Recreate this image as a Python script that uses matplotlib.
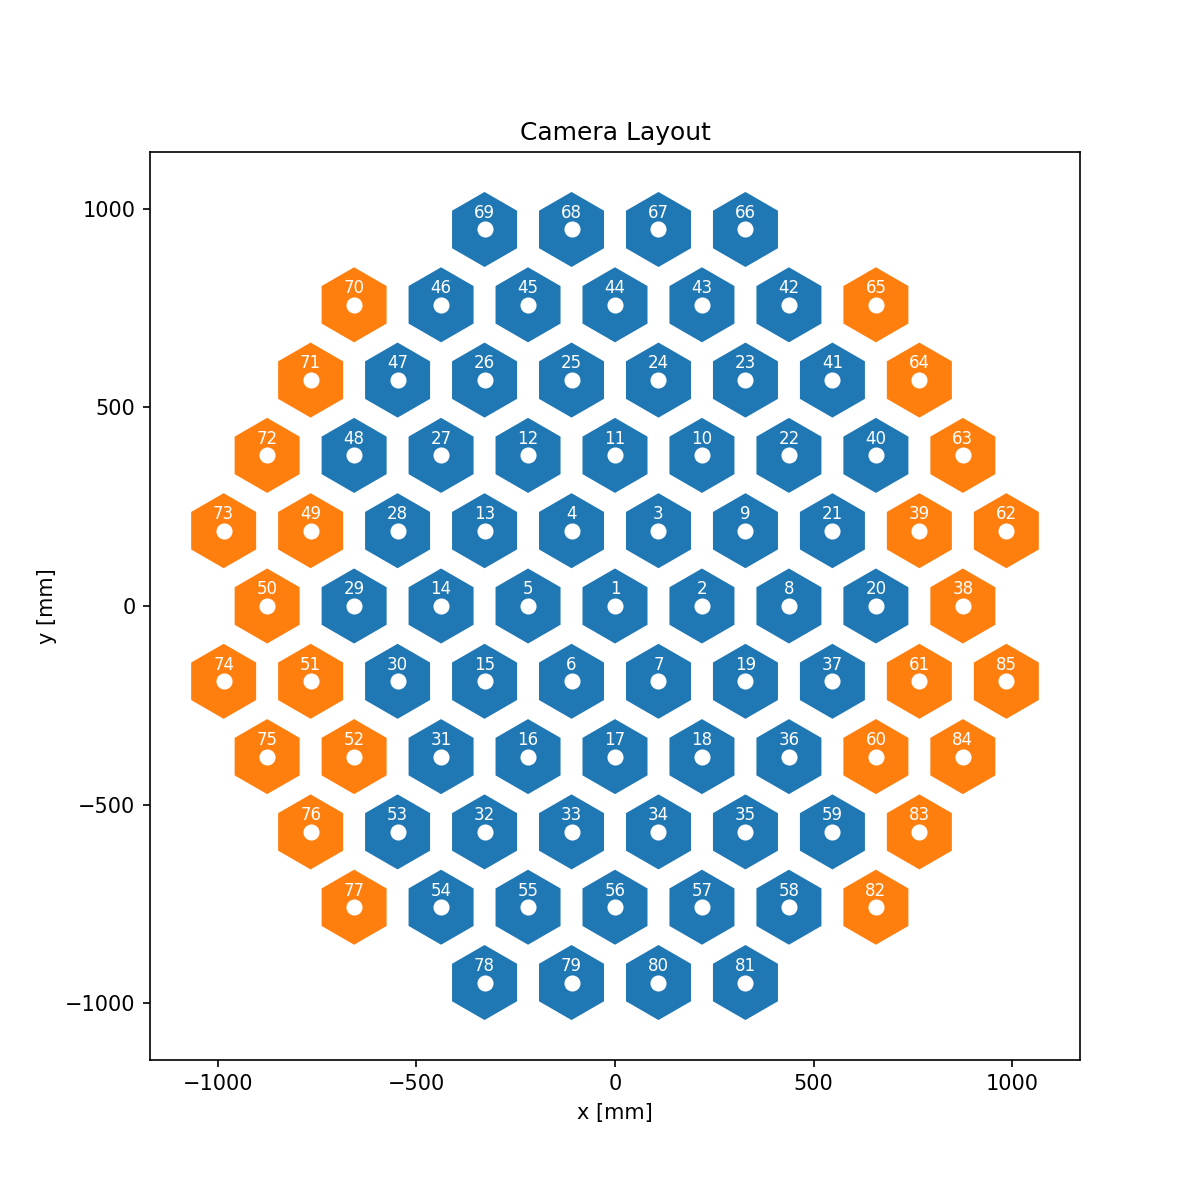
import numpy as np
import matplotlib
matplotlib.use("Agg")
import matplotlib.pyplot as plt
from matplotlib.patches import RegularPolygon
from matplotlib.collections import PatchCollection

# Pixel ids and positions [mm], in id order
pix_id = np.arange(1, 86)
pix_x = [
    0, 219, 109.5, -109.5, -219, -109.5, 109.5, 438, 328.5, 219,
    0, -219, -328.5, -438, -328.5, -219, 0, 219, 328.5, 657,
    547.5, 438, 328.5, 109.5, -109.5, -328.5, -438, -547.5, -657, -547.5,
    -438, -328.5, -109.5, 109.5, 328.5, 438, 547.5, 876, 766.5, 657,
    547.5, 438, 219, 0, -219, -438, -547.5, -657, -766.5, -876,
    -766.5, -657, -547.5, -438, -219, 0, 219, 438, 547.5, 657,
    766.5, 985.5, 876, 766.5, 657, 328.5, 109.5, -109.5, -328.5, -657,
    -766.5, -876, -985.5, -985.5, -876, -766.5, -657, -328.5, -109.5, 109.5,
    328.5, 657, 766.5, 876, 985.5,
]
pix_y = [
    0, 0, 189.6, 189.6, 0, -189.6, -189.6, 0, 189.6, 379.3,
    379.3, 379.3, 189.6, 0, -189.6, -379.3, -379.3, -379.3, -189.6, 0,
    189.6, 379.3, 568.9, 568.9, 568.9, 568.9, 379.3, 189.6, 0, -189.6,
    -379.3, -568.9, -568.9, -568.9, -568.9, -379.3, -189.6, 0, 189.6, 379.3,
    568.9, 758.5, 758.5, 758.5, 758.5, 758.5, 568.9, 379.3, 189.6, 0,
    -189.6, -379.3, -568.9, -758.5, -758.5, -758.5, -758.5, -758.5, -568.9, -379.3,
    -189.6, 189.6, 379.3, 568.9, 758.5, 948.2, 948.2, 948.2, 948.2, 758.5,
    568.9, 379.3, 189.6, -189.6, -379.3, -568.9, -758.5, -948.2, -948.2, -948.2,
    -948.2, -758.5, -568.9, -379.3, -189.6,
]
# pixels drawn in the second colour
orange_ids = [38, 39, 49, 50, 51, 52, 60, 61, 62, 63, 64, 65,
              70, 71, 72, 73, 74, 75, 76, 77, 82, 83, 84, 85]

hex_radius = 94.5

fig, ax = plt.subplots(figsize=(8, 8))

patches = []
colors = []
for pid, x, y in zip(pix_id, pix_x, pix_y):
    patches.append(RegularPolygon((x, y), numVertices=6, radius=hex_radius, orientation=0))
    colors.append("tab:orange" if pid in orange_ids else "tab:blue")
coll = PatchCollection(patches, facecolors=colors, edgecolors="none")
ax.add_collection(coll)

ax.scatter(pix_x, pix_y, s=45, color="white", zorder=3)
for pid, x, y in zip(pix_id, pix_x, pix_y):
    ax.text(x, y + 42, str(pid), color="white", fontsize=8,
            ha="center", va="center", zorder=4)

ax.set_aspect("equal")
ax.set_xlim(-1171, 1171)
ax.set_ylim(-1143, 1143)
ax.set_xlabel("x [mm]")
ax.set_ylabel("y [mm]")
ax.set_title("Camera Layout")

fig.savefig("out.png", dpi=150)
